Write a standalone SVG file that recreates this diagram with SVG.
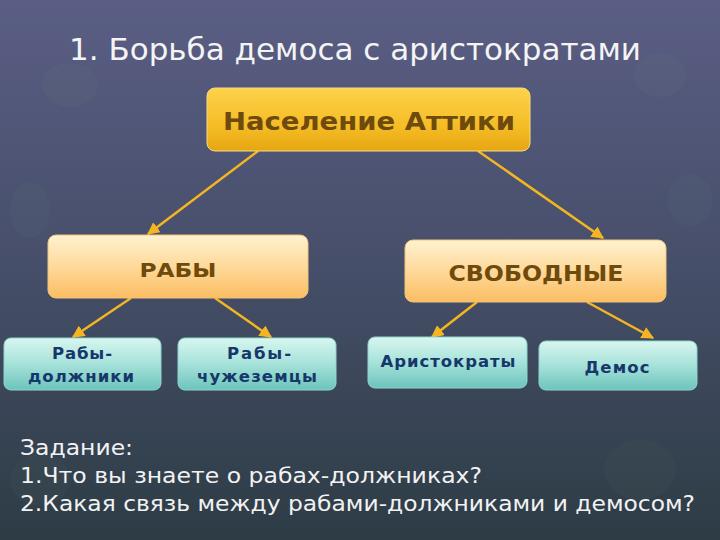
<svg xmlns="http://www.w3.org/2000/svg" width="720" height="540" viewBox="0 0 720 540">
<defs>
<linearGradient id="bg" x1="0" y1="0" x2="0" y2="1">
<stop offset="0" stop-color="#5a5e84"/>
<stop offset="0.45" stop-color="#48506c"/>
<stop offset="1" stop-color="#2d3c45"/>
</linearGradient>
<linearGradient id="gold" x1="0" y1="0" x2="0" y2="1">
<stop offset="0" stop-color="#fdd24a"/>
<stop offset="0.6" stop-color="#f5bd26"/>
<stop offset="1" stop-color="#e6a612"/>
</linearGradient>
<linearGradient id="peach" x1="0" y1="0" x2="0" y2="1">
<stop offset="0" stop-color="#fff2d0"/>
<stop offset="0.5" stop-color="#fed99a"/>
<stop offset="1" stop-color="#fbbd62"/>
</linearGradient>
<linearGradient id="teal" x1="0" y1="0" x2="0" y2="1">
<stop offset="0" stop-color="#d8f6f0"/>
<stop offset="0.5" stop-color="#a6e2da"/>
<stop offset="1" stop-color="#6cc4bc"/>
</linearGradient>
<marker id="ah" viewBox="0 0 10 10" refX="9" refY="5" markerWidth="5" markerHeight="5" orient="auto">
<path d="M0,0 L10,5 L0,10 z" fill="#f4b522"/>
</marker>
<style>
.title{font-family:"DejaVu Sans","Liberation Sans",sans-serif;font-size:31px;fill:#f4f4f4}
.gold{fill:url(#gold);stroke:#f8dc80;stroke-width:1}
.peach{fill:url(#peach);stroke:#f2c27a;stroke-width:1}
.teal{fill:url(#teal);stroke:#8ed6cc;stroke-width:1}
.brown{font-family:"DejaVu Sans","Liberation Sans",sans-serif;font-weight:bold;fill:#6e4a0c;text-anchor:middle}
.navy{font-family:"DejaVu Sans","Liberation Sans",sans-serif;font-weight:bold;font-size:16.5px;fill:#16376a;text-anchor:middle}
.task{font-family:"DejaVu Sans","Liberation Sans",sans-serif;font-size:22px;fill:#f2f2f2}
.conn{stroke:#f4b522;stroke-width:2.5;fill:none;marker-end:url(#ah)}
</style>
</defs>
<rect width="720" height="540" fill="url(#bg)"/>
<g opacity="0.04" fill="#8fb888">
<ellipse cx="70" cy="85" rx="28" ry="22"/>
<ellipse cx="660" cy="75" rx="26" ry="22"/>
<ellipse cx="30" cy="210" rx="20" ry="28"/>
<ellipse cx="690" cy="200" rx="22" ry="26"/>
<ellipse cx="640" cy="470" rx="36" ry="30"/>
<ellipse cx="40" cy="480" rx="30" ry="26"/>
</g>
<text class="title" x="69" y="60" textLength="572" lengthAdjust="spacingAndGlyphs">1. Борьба демоса с аристократами</text>
<g id="connectors">
<line class="conn" x1="258" y1="151" x2="148" y2="234"/>
<line class="conn" x1="478" y1="151" x2="603" y2="238"/>
<line class="conn" x1="131" y1="298" x2="73" y2="337"/>
<line class="conn" x1="215" y1="298" x2="271" y2="337"/>
<line class="conn" x1="477" y1="302" x2="432" y2="337"/>
<line class="conn" x1="587" y1="302" x2="653" y2="338"/>
</g>
<g id="n-attica">
<rect class="gold" x="207" y="88" width="323" height="63" rx="8"/>
<text class="brown" x="369" y="130" font-size="24" textLength="292" lengthAdjust="spacingAndGlyphs">Население Аттики</text>
</g>
<g id="n-slaves">
<rect class="peach" x="48" y="235" width="260" height="63" rx="8"/>
<text class="brown" x="178" y="277" font-size="20" textLength="77" lengthAdjust="spacingAndGlyphs">РАБЫ</text>
</g>
<g id="n-free">
<rect class="peach" x="405" y="240" width="261" height="62" rx="8"/>
<text class="brown" x="536" y="281" font-size="21" textLength="175" lengthAdjust="spacingAndGlyphs">СВОБОДНЫЕ</text>
</g>
<g id="n-debt">
<rect class="teal" x="4" y="338" width="157" height="52" rx="7"/>
<text class="navy" x="82" y="359" textLength="60" lengthAdjust="spacing">Рабы-</text>
<text class="navy" x="81" y="382" textLength="106" lengthAdjust="spacing">должники</text>
</g>
<g id="n-foreign">
<rect class="teal" x="178" y="338" width="158" height="52" rx="7"/>
<text class="navy" x="259" y="359" textLength="64" lengthAdjust="spacing">Рабы-</text>
<text class="navy" x="257" y="382" textLength="120" lengthAdjust="spacing">чужеземцы</text>
</g>
<g id="n-aristo">
<rect class="teal" x="368" y="337" width="159" height="51" rx="7"/>
<text class="navy" x="448" y="367" textLength="135" lengthAdjust="spacing">Аристократы</text>
</g>
<g id="n-demos">
<rect class="teal" x="539" y="341" width="158" height="49" rx="7"/>
<text class="navy" x="617" y="373" textLength="65" lengthAdjust="spacing">Демос</text>
</g>
<text class="task" x="20" y="455" textLength="113" lengthAdjust="spacingAndGlyphs">Задание:</text>
<text class="task" x="20" y="483" textLength="462" lengthAdjust="spacingAndGlyphs">1.Что вы знаете о рабах-должниках?</text>
<text class="task" x="20" y="511" textLength="675" lengthAdjust="spacingAndGlyphs">2.Какая связь между рабами-должниками и демосом?</text>
</svg>
